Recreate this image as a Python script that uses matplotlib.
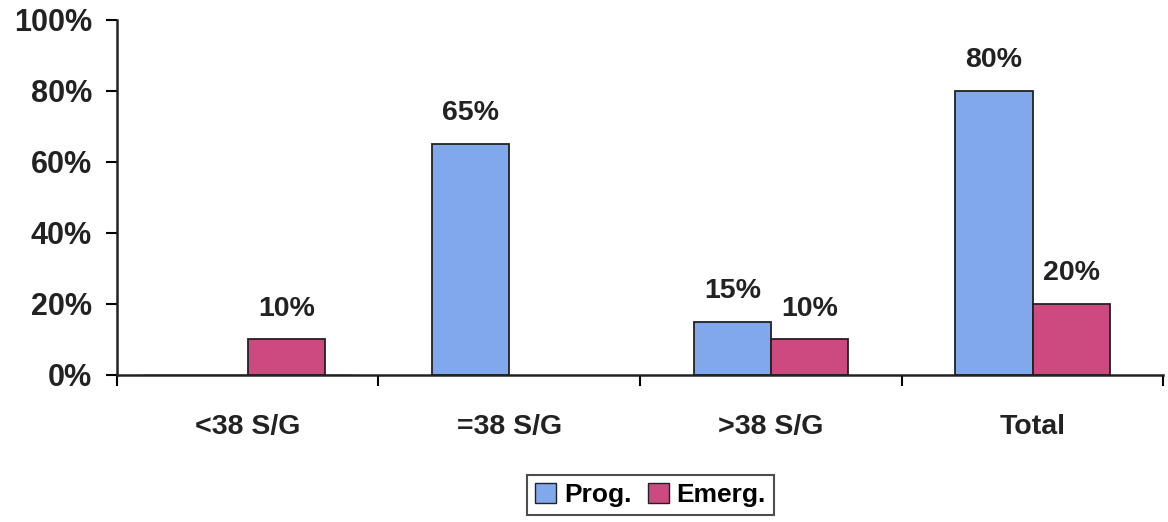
import numpy as np
import matplotlib
matplotlib.use("Agg")
import matplotlib.pyplot as plt

categories = ["<38 S/G", "=38 S/G", ">38 S/G", "Total"]
prog = [0, 65, 15, 80]
emerg = [10, 0, 10, 20]
prog_labels = ["", "65%", "15%", "80%"]
emerg_labels = ["10%", "", "10%", "20%"]
yticks = [0, 20, 40, 60, 80, 100]

plt.rcParams['font.family'] = ['Liberation Sans', 'DejaVu Sans']
plt.rcParams['font.weight'] = 'bold'

fig = plt.figure(figsize=(11.68, 5.22), dpi=100)
ax = fig.add_axes([0.100, 0.282, 0.896, 0.680])

x = np.arange(len(categories))
w = 0.295
c_prog = '#82A8EC'
c_emerg = '#CC4A80'

# bars with zero height are skipped so no stray outline shows on the axis
for i in x:
    if prog[i] > 0:
        ax.bar(i - w / 2, prog[i], w, color=c_prog, edgecolor='#222222', lw=1.3)
        ax.text(i - w / 2, prog[i] + 5, prog_labels[i], ha='center', va='bottom',
                fontsize=20.5, fontweight='bold', color='#222222')
    if emerg[i] > 0:
        ax.bar(i + w / 2, emerg[i], w, color=c_emerg, edgecolor='#222222', lw=1.3)
        ax.text(i + w / 2, emerg[i] + 5, emerg_labels[i], ha='center', va='bottom',
                fontsize=20.5, fontweight='bold', color='#222222')

# legend proxies
ax.bar([0], [0], color=c_prog, edgecolor='#222222', label='Prog.')
ax.bar([0], [0], color=c_emerg, edgecolor='#222222', label='Emerg.')

ax.set_xlim(-0.5, len(categories) - 0.5)
ax.set_ylim(0, 100)
ax.set_yticks(yticks)
ax.set_yticklabels([f"{t}%" for t in yticks], fontsize=22, fontweight='bold', color='#222222')

# category ticks sit on the boundaries, labels in the middle
ax.set_xticks(np.arange(len(categories) + 1) - 0.5)
ax.set_xticklabels([])
ax.set_xticks(x, minor=True)
ax.set_xticklabels(categories, minor=True, fontsize=20.5, fontweight='bold', color='#222222')
ax.tick_params(axis='x', which='minor', length=0, pad=28)
ax.tick_params(axis='x', which='major', length=8, width=1.5, direction='out')
ax.tick_params(axis='y', length=8, width=1.5, direction='out', pad=10)

for s in ['top', 'right']:
    ax.spines[s].set_visible(False)
for s in ['left', 'bottom']:
    ax.spines[s].set_linewidth(1.8)
    ax.spines[s].set_color('#222222')

leg = fig.legend(loc='lower center', bbox_to_anchor=(0.557, -0.012), ncol=2,
                 prop={'size': 19, 'weight': 'bold'}, frameon=True, fancybox=False,
                 handlelength=0.8, handleheight=0.8, handletextpad=0.3,
                 columnspacing=0.6, borderpad=0.3)
leg.get_frame().set_edgecolor('#222222')
leg.get_frame().set_linewidth(1.5)

fig.savefig("out.png", dpi=100)
